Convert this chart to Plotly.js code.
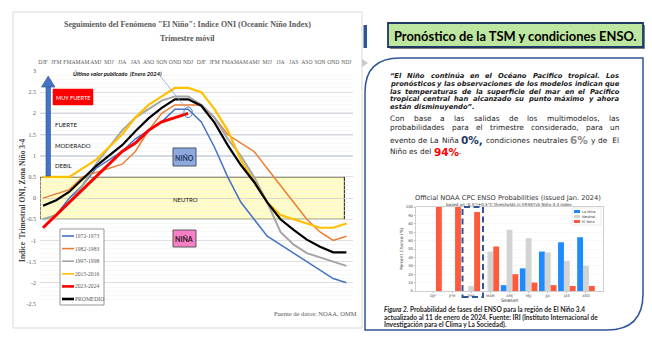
<!DOCTYPE html>
<html><head><meta charset="utf-8">
<script src="https://cdn.plot.ly/plotly-3.0.1.min.js"></script>
<style>html,body{margin:0;padding:0;background:#fff}#chart{width:652px;height:341px}</style>
</head><body><div id="chart"></div>
<script>
// ---------------- DATA ----------------
const seasons = ['DJF','JFM','FMA','MAM','AMJ','MJJ','JJA','JAS','ASO','SON','OND','NDJ','DJF','JFM','FMA','MAM','AMJ','MJJ','JJA','JAS','ASO','SON','OND','NDJ'];
const seriesNames = ['1972-1973','1982-1983','1997-1998','2015-2016','2023-2024','PROMEDIO'];
const oni1972 = [-0.7,-0.4,0.0,0.3,0.7,0.9,1.1,1.4,1.6,1.8,2.1,2.1,1.8,1.2,0.5,-0.1,-0.5,-0.9,-1.1,-1.3,-1.5,-1.7,-1.9,-2.0];
const oni1982 = [0.0,0.1,0.2,0.5,0.6,0.7,0.8,1.1,1.6,2.0,2.2,2.2,2.2,1.9,1.5,1.3,1.1,0.7,0.3,-0.1,-0.5,-0.8,-1.0,-0.9];
const oni1997 = [-0.5,-0.4,-0.1,0.3,0.8,1.2,1.6,1.9,2.1,2.3,2.4,2.4,2.2,1.9,1.4,1.0,0.5,-0.1,-0.8,-1.1,-1.3,-1.4,-1.5,-1.6];
const oni2015 = [0.5,0.5,0.5,0.7,0.9,1.2,1.5,1.9,2.2,2.4,2.6,2.6,2.5,2.1,1.6,0.9,0.4,-0.1,-0.4,-0.5,-0.6,-0.7,-0.7,-0.6];
const oni2023 = [-0.7,-0.4,-0.1,0.2,0.5,0.8,1.1,1.3,1.6,1.8,1.9,2.0];
const promedio = [-0.18,-0.05,0.15,0.45,0.75,1.0,1.25,1.58,1.88,2.13,2.33,2.33,2.18,1.78,1.25,0.78,0.38,-0.1,-0.5,-0.75,-0.98,-1.15,-1.28,-1.28];
const yTickVals = [-2.5,-2,-1.5,-1,-0.5,0,0.5,1,1.5,2,2.5,3];

const probSeasons = ['DJF','JFM','FMA','MAM','AMJ','MJJ','JJA','JAS','ASO'];
const probNames = ['La Nina','Neutral','El Nino'];
const probLaNina = [0,0,0,0,7,27,47,58,64];
const probNeutral = [0,0,6,47,73,63,46,36,30];
const probElNino = [100,100,94,53,20,10,7,6,6];
const probTicks = [0,10,20,30,40,50,60,70,80,90,100];

const pctLaNina = '0%,', pctNeutral = '6%', pctElNino = '94%';

// ---------------- HELPERS ----------------
const W = 652, H = 341;
const PX = x => x / W, PY = y => 1 - y / H;
const cv = document.createElement('canvas'); const ctx = cv.getContext('2d');
function tw(text, f) {
  ctx.font = `${f.style||'normal'} ${f.weight||'normal'} ${f.size}px "${f.family}"`;
  return ctx.measureText(text).width;
}
function fitSize(text, f, target) {
  const w = tw(text, Object.assign({}, f, {size: 10}));
  return 10 * target / w;
}
const annotations = [];
const shapes = [];
function addText(text, x, y, font, opts) {
  annotations.push(Object.assign({xref:'paper', yref:'paper', x:PX(x), y:PY(y), text:text, showarrow:false,
    xanchor:'left', yanchor:'middle', font:font, borderpad:0, borderwidth:0}, opts||{}));
}
function rectPx(x0,y0,x1,y1,style) {
  shapes.push(Object.assign({type:'rect', xref:'paper', yref:'paper', x0:PX(x0), x1:PX(x1), y0:PY(y1), y1:PY(y0)}, style));
}
function linePx(x0,y0,x1,y1,style) {
  shapes.push(Object.assign({type:'line', xref:'paper', yref:'paper', x0:PX(x0), x1:PX(x1), y0:PY(y0), y1:PY(y1)}, style));
}
function pathPx(pts, style) {
  shapes.push(Object.assign({type:'path', xref:'paper', yref:'paper', path:pts}, style));
}
const P = (x,y) => `${PX(x)},${PY(y)}`;

function layoutLine(tokens, x0, x1, y, justify) {
  const widths = tokens.map(t => tw(t.t, t.f));
  let nGaps = 0; tokens.forEach((t,i)=>{ if (i < tokens.length-1 && !t.glue) nGaps++; });
  let gap;
  if (justify && nGaps > 0) gap = (x1 - x0 - widths.reduce((a,b)=>a+b,0)) / nGaps;
  else gap = tw(' ', tokens[0].f);
  let x = x0;
  tokens.forEach((t,i) => { addText(t.t, x, y, t.f); x += widths[i] + (t.glue ? 0 : gap); });
}

// ---------------- LEFT CHART DECOR ----------------
rectPx(13, 12, 362, 328, {line:{color:'#D9D9D9', width:1}, fillcolor:'rgba(0,0,0,0)', layer:'below'});
shapes.push({type:'rect', xref:'x', yref:'y', x0:-0.23, x1:22.85, y0:-0.5, y1:0.5, fillcolor:'#FFFCC4', line:{color:'#3A3A3A', width:1.2}, layer:'below'});
[1, 1.5, 2].forEach(v => shapes.push({type:'line', xref:'x', yref:'y', x0:-0.23, x1:23.5, y0:v, y1:v, line:{color:'#9FB4D8', width:1.3}, layer:'below'}));
rectPx(46, 86, 50.5, 176, {fillcolor:'#4472C4', line:{color:'#2F528F', width:0.6}});
pathPx(`M ${P(41.5,87)} L ${P(55,87)} L ${P(48.2,76)} Z`, {fillcolor:'#4472C4', line:{color:'#2F528F', width:0.6}});
rectPx(53, 89, 93, 105, {fillcolor:'#FF0000', line:{color:'#FF0000', width:0.5}});
rectPx(173, 148, 196, 166, {fillcolor:'#8EA9DB', line:{color:'#44546A', width:1}});
rectPx(173, 230, 196, 247, {fillcolor:'#F77FC6', line:{color:'#595959', width:1}});
shapes.push({type:'circle', xref:'x', yref:'y', x0:10.68, x1:11.32, y0:1.9, y1:2.15, line:{color:'#4472C4', width:0.9}});
linePx(161, 77, 185, 107, {line:{color:'#8EA3C4', width:0.8}});

const serif = 'Liberation Serif';
const lblSans = 'Lato';
const t1 = 'Seguimiento del Fenómeno "El Niño": Indice ONI (Oceanic Niño Index)';
const t1f = {family:serif, weight:'bold', color:'#595959', size:10};
t1f.size = Math.min(10, fitSize(t1, t1f, 247));
addText(t1, 187, 24, t1f, {xanchor:'center'});
addText('Trimestre móvil', 187, 38.5, Object.assign({}, t1f), {xanchor:'center'});
const ult = 'Último valor publicado  (Enero 2024)';
const ultf = {family:lblSans, weight:'bold', style:'italic', color:'#111111', size:6};
ultf.size = Math.min(7, fitSize(ult, ultf, 89));
addText(ult, 73, 73, ultf);
const catf = {family:lblSans, size:6, color:'#111111'};
addText('MUY FUERTE', 73, 97.5, {family:lblSans, size:5.6, color:'#FFFFFF'}, {xanchor:'center'});
addText('FUERTE', 55, 124.5, catf);
addText('MODERADO', 55, 145, catf);
addText('DEBIL', 55, 165.5, catf);
addText('NEUTRO', 185, 199.5, catf, {xanchor:'center'});
addText('NIÑO', 184.5, 157.5, {family:lblSans, size:7, color:'#1F3864', weight:'bold'}, {xanchor:'center'});
addText('NIÑA', 184.5, 238.5, {family:lblSans, size:7, color:'#2B1020', weight:'bold'}, {xanchor:'center'});
addText('Indice  Trimestral ONI, Zona Niño 3-4', 22, 200, {family:serif, size:7.5, weight:'bold', color:'#404040'}, {xanchor:'center', textangle:-90});
addText('Fuente de datos: NOAA, OMM', 357, 313.5, {family:serif, size:6.5, color:'#595959'}, {xanchor:'right'});

const seriesData = [oni1972, oni1982, oni1997, oni2015, oni2023, promedio];
const seriesColors = ['#4472C4','#ED7D31','#A5A5A5','#FFC000','#FF0000','#000000'];
const seriesWidths = [1.5, 1.5, 2, 2.2, 3, 2.2];
rectPx(60, 229, 104, 305, {fillcolor:'#FFFFFF', line:{color:'#7F7F7F', width:0.8}});
seriesNames.forEach((nm, k) => {
  const y = 236 + 12.6 * k;
  linePx(62, y, 74, y, {line:{color:seriesColors[k], width: k >= 4 ? 2.6 : 1.6}});
  addText(nm, 74.5, y, {family:serif, size:5.6, color:'#595959'});
});

// ---------------- RIGHT PANEL ----------------
rectPx(363.5, 25, 367, 48, {fillcolor:'#2F5597', line:{width:0}});
pathPx(`M ${P(362,59)} L ${P(368,63)} L ${P(362,67)} Z`, {fillcolor:'#C8C8C8', line:{width:0}});
rectPx(390, 25, 645, 49, {fillcolor:'#7F7F7F', line:{width:0}});
rectPx(388, 23, 643, 47, {fillcolor:'#BDE6A0', line:{color:'#1F3864', width:1.8}});
const ttl = 'Pronóstico de la TSM y condiciones ENSO.';
const ttlf = {family:'Lato', weight:'bold', color:'#000000', size:13};
ttlf.size = Math.min(14, fitSize(ttl, ttlf, 244));
addText(ttl, 515.5, 35.5, ttlf, {xanchor:'center'});
pathPx(`M ${P(365,330)} L ${P(365,92)} Q ${P(365,58)} ${P(400,58)} L ${P(643,58)} L ${P(643,294)} Q ${P(643,330)} ${P(607,330)} Z`,
  {line:{color:'#2F5597', width:1.5}, fillcolor:'rgba(0,0,0,0)'});

const italicLines = ['“El Niño continúa en el Océano Pacifico tropical. Los',
  'pronósticos y las observaciones de los modelos indican que',
  'las temperaturas de la superficie del mar en el Pacifico',
  'tropical central han alcanzado su punto máximo y ahora',
  'están disminuyendo”.'];
const fI = {family:'DejaVu Sans', weight:'bold', style:'italic', color:'#1A1A1A', size:7};
fI.size = Math.min(7.2, fitSize(italicLines[1], fI, 229));
const itY = [76, 84, 91.7, 99.3, 107];
italicLines.forEach((ln, i) => layoutLine(ln.split(' ').map(w => ({t:w, f:fI})), 390, 619, itY[i], i < italicLines.length - 1));
const fR = {family:'DejaVu Sans', color:'#1A1A1A', size:7};
const regLines = ['Con base a las salidas de los multimodelos, las', 'probabilidades para el trimestre considerado, para un'];
fR.size = Math.min(7.4, fitSize(regLines[1], fR, 222));
layoutLine(regLines[0].split(' ').map(w => ({t:w, f:fR})), 390, 619, 118.5, true);
layoutLine(regLines[1].split(' ').map(w => ({t:w, f:fR})), 390, 619, 127, true);
const big = s => ({family:'DejaVu Sans', weight:'bold', size:10.5, color:s});
const line8 = ['evento','de','La','Niña'].map(w => ({t:w, f:fR}))
  .concat([{t:pctLaNina, f:big('#1F3864')}])
  .concat(['condiciones','neutrales'].map(w => ({t:w, f:fR})))
  .concat([{t:pctNeutral, f:big('#8C8C8C')}])
  .concat(['y','de',' El'].map(w => ({t:w, f:fR})));
layoutLine(line8, 390, 619, 140, true);
const line9 = ['Niño','es','del'].map(w => ({t:w, f:fR})).concat([{t:pctElNino, f:big('#FF0000'), glue:true}, {t:'.', f:fR}]);
layoutLine(line9, 390, 619, 151.5, false);

const bt = 'Official NOAA CPC ENSO Probabilities (issued Jan. 2024)';
const btf = {family:'DejaVu Sans', color:'#333333', size:7};
btf.size = fitSize(bt, btf, 186);
addText(bt, 508, 197.5, btf, {xanchor:'center'});
const bst = 'based on -0.5°/+0.5°C thresholds in ERSSTv5 Niño-3.4 index';
const bstf = {family:'DejaVu Sans', color:'#333333', size:4};
bstf.size = fitSize(bst, bstf, 126);
addText(bst, 509, 204, bstf, {xanchor:'center'});
addText('Percent Chance (%)', 401, 249, {family:'DejaVu Sans', size:4.3, color:'#333333'}, {xanchor:'center', textangle:-90});
addText('Season', 509.5, 300, {family:'DejaVu Sans', size:4.8, color:'#333333'}, {xanchor:'center'});
rectPx(462.5, 207, 483, 297, {line:{color:'#2F5597', width:2, dash:'6px,3.5px'}, fillcolor:'rgba(0,0,0,0)'});
const probColors = ['#1E8CFF','#D3D3D3','#FF5A3C'];
rectPx(572, 208, 601, 225, {fillcolor:'#FFFFFF', line:{color:'#DDDDDD', width:0.6}});
probNames.forEach((nm, k) => {
  const y = 211.5 + 5 * k;
  rectPx(574, y - 1.5, 580, y + 1.5, {fillcolor:probColors[k], line:{width:0}});
  addText(nm, 582, y, {family:'DejaVu Sans', size:3.6, color:'#333333'});
});
const capf = {family:'Lato', weight:'bold', color:'#262626', size:6};
const cap2 = 'actualizado al 11 de enero de 2024. Fuente: IRI (Instituto Internacional de';
capf.size = fitSize(cap2, capf, 214);
addText('<i>Figura 2.</i> Probabilidad de fases del ENSO para la región de El Niño 3.4', 384, 309.5, capf);
addText(cap2, 384, 317, capf);
addText('Investigación para el Clima y La Sociedad).', 384, 324.5, capf);

// ---------------- TRACES ----------------
const idx = arr => arr.map((_, i) => i);
const order = [0, 1, 2, 3, 5, 4];
const traces = order.map(k => ({
  type:'scatter', mode:'lines', x: idx(seriesData[k]), y: seriesData[k], name: seriesNames[k],
  line:{color: seriesColors[k], width: seriesWidths[k]}, xaxis:'x', yaxis:'y', showlegend:false, hoverinfo:'skip'
}));
[probLaNina, probNeutral, probElNino].forEach((vals, k) => traces.push({
  type:'bar', x: idx(probSeasons), y: vals, name: probNames[k], marker:{color: probColors[k], line:{width:0}},
  xaxis:'x2', yaxis:'y2', showlegend:false, hoverinfo:'skip'
}));

const layout = {
  width: W, height: H, margin:{l:0, r:0, t:0, b:0}, paper_bgcolor:'#FFFFFF', plot_bgcolor:'rgba(0,0,0,0)',
  showlegend:false, barmode:'group', bargap:0.08, bargroupgap:0,
  xaxis:{domain:[PX(40), PX(353)], range:[-0.23, 23.5], side:'top', tickmode:'array', tickvals: idx(seasons), ticktext: seasons,
    tickfont:{family:serif, size:5.6, color:'#595959'}, tickangle:0, showgrid:false, zeroline:false, showline:false, ticks:'', anchor:'y', ticklabelstandoff:5},
  yaxis:{domain:[PY(304), PY(71)], range:[-2.5, 3], tickmode:'array', tickvals: yTickVals, ticktext: yTickVals.map(String),
    tickfont:{family:serif, size:6, color:'#595959'}, showgrid:true, gridcolor:'#DADADA', gridwidth:0.8,
    minor:{dtick:0.1, showgrid:true, gridcolor:'#F1F1F1', gridwidth:0.6}, zeroline:true, zerolinecolor:'#D0D0D0', zerolinewidth:0.8,
    showline:false, ticks:'', anchor:'x', ticklabelstandoff:3},
  xaxis2:{domain:[PX(416), PX(603)], range:[-0.89, 8.89], tickmode:'array', tickvals: idx(probSeasons), ticktext: probSeasons,
    tickfont:{family:'DejaVu Sans', size:3.6, color:'#444444'}, tickangle:0, showgrid:false, zeroline:false, showline:true, mirror:true,
    linecolor:'#BBBBBB', linewidth:0.7, ticks:'outside', ticklen:1.2, tickcolor:'#BBBBBB', anchor:'y2', ticklabelstandoff:0.3},
  yaxis2:{domain:[PY(291), PY(207)], range:[0, 100], tickmode:'array', tickvals: probTicks, ticktext: probTicks.map(String),
    tickfont:{family:'DejaVu Sans', size:3.8, color:'#444444'}, showgrid:true, gridcolor:'#F2F2F2', gridwidth:0.5, zeroline:false,
    showline:true, mirror:true, linecolor:'#BBBBBB', linewidth:0.7, ticks:'outside', ticklen:1.5, tickcolor:'#BBBBBB', anchor:'x2', ticklabelstandoff:0.5},
  shapes: shapes, annotations: annotations
};
Plotly.newPlot('chart', traces, layout, {displayModeBar:false, staticPlot:true});
</script></body></html>
